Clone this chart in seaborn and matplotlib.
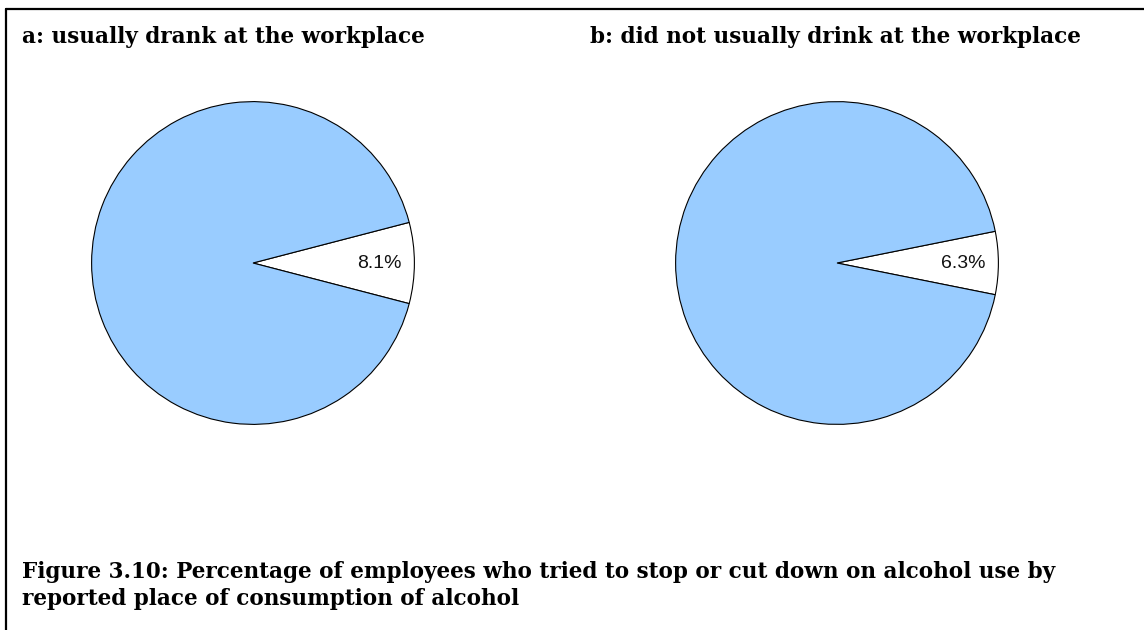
import matplotlib
matplotlib.use("Agg")
import matplotlib.pyplot as plt
from matplotlib.lines import Line2D
import seaborn as sns

# data
slices = ["tried to stop or cut down", "did not"]
pct_a = [8.1, 91.9]
pct_b = [6.3, 93.7]
panel_titles = ["a: usually drank at the workplace",
                "b: did not usually drink at the workplace"]
caption_1 = "Figure 3.10: Percentage of employees who tried to stop or cut down on alcohol use by"
caption_2 = "reported place of consumption of alcohol"

sns.set_theme(style="white")
plt.rcParams['font.family'] = ['Liberation Sans', 'DejaVu Sans']
plt.rcParams['text.color'] = 'black'

W, H = 1144, 630
fig = plt.figure(figsize=(W / 100, H / 100), dpi=100)
fig.patch.set_facecolor("white")

colors = ["white", "#99CCFF"]

def pie_axes(cx, cy, r):
    # pixel centre / radius -> figure fraction box
    return fig.add_axes([(cx - r) / W, 1 - (cy + r) / H, 2 * r / W, 2 * r / H])

for (cx, vals) in [(253, pct_a), (837, pct_b)]:
    ax = pie_axes(cx, 263, 163)
    ax.pie(vals,
           colors=colors,
           startangle=-vals[0] * 360 / 200,
           counterclock=True,
           autopct=lambda p: f"{p:.1f}%" if p < 50 else "",
           pctdistance=0.78,
           wedgeprops=dict(edgecolor="black", linewidth=0.8),
           textprops=dict(fontsize=14, color="#111111"))
    ax.set_xlim(-1.01, 1.01)
    ax.set_ylim(-1.01, 1.01)
    ax.set_aspect("equal")
    ax.axis("off")

serif = ['DejaVu Serif']
fs = 15.5
fig.text(22 / W, 1 - 43 / H, panel_titles[0], family=serif, fontweight="bold",
         fontsize=fs, va="baseline", ha="left", color="black")
fig.text(590 / W, 1 - 43 / H, panel_titles[1], family=serif, fontweight="bold",
         fontsize=fs, va="baseline", ha="left", color="black")
fig.text(22 / W, 1 - 578 / H, caption_1, family=serif, fontweight="bold",
         fontsize=fs, va="baseline", ha="left", color="black")
fig.text(22 / W, 1 - 605 / H, caption_2, family=serif, fontweight="bold",
         fontsize=fs, va="baseline", ha="left", color="black")

# frame: top and left only
fig.add_artist(Line2D([6 / W, 1], [1 - 9 / H, 1 - 9 / H], color="black",
                      linewidth=1.6, transform=fig.transFigure))
fig.add_artist(Line2D([6 / W, 6 / W], [1 - 9 / H, 0], color="black",
                      linewidth=1.6, transform=fig.transFigure))

fig.savefig("out.png", dpi=100)
